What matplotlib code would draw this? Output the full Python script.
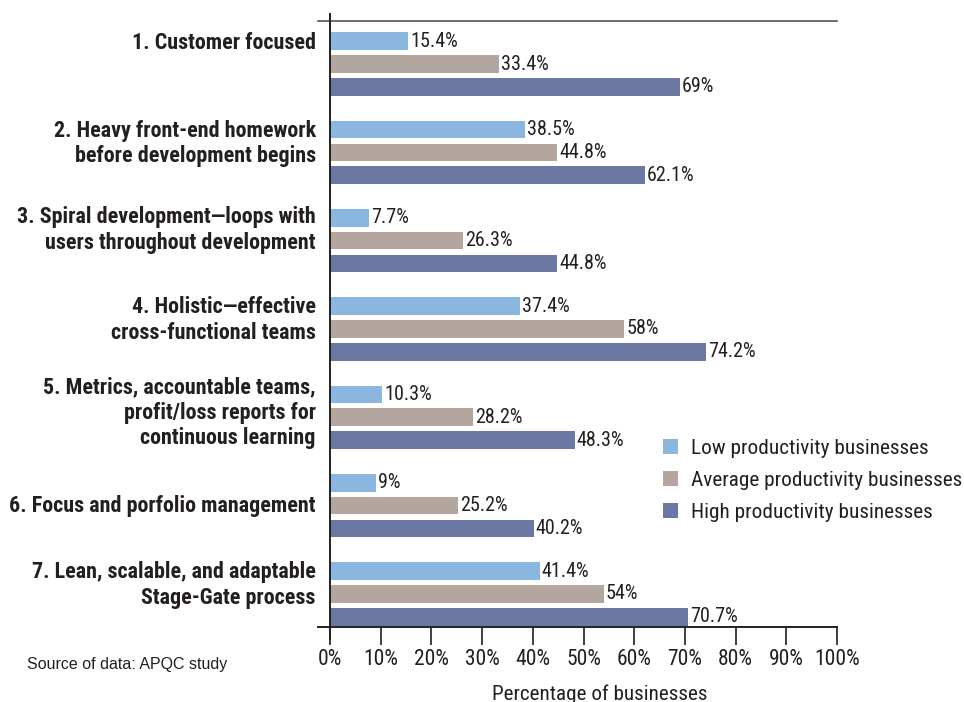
import matplotlib.pyplot as plt
from matplotlib import font_manager
import numpy as np

# Data
categories = [
    "1. Customer focused",
    "2. Heavy front-end homework\nbefore development begins",
    "3. Spiral development\u2014loops with\nusers throughout development",
    "4. Holistic\u2014effective\ncross-functional teams",
    "5. Metrics, accountable teams,\nprofit/loss reports for\ncontinuous learning",
    "6. Focus and porfolio management",
    "7. Lean, scalable, and adaptable\nStage-Gate process",
]
low = [15.4, 38.5, 7.7, 37.4, 10.3, 9, 41.4]
average = [33.4, 44.8, 26.3, 58, 28.2, 25.2, 54]
high = [69, 62.1, 44.8, 74.2, 48.3, 40.2, 70.7]
series_names = ["Low productivity businesses", "Average productivity businesses",
                "High productivity businesses"]
colors = ["#8ab6df", "#b3a69e", "#6b78a2"]
xticks = list(range(0, 101, 10))

# vertical nudge of each category label relative to its group centre
label_shift = [-0.24, -0.1, -0.12, -0.1, -0.05, 0.0, -0.1]

txt = "#231f20"

# pick a condensed face if one is installed
installed = {f.name for f in font_manager.fontManager.ttflist}
wanted = ["Liberation Sans Narrow", "DejaVu Sans Condensed", "Roboto Condensed",
          "Open Sans Condensed", "Arial Narrow", "Roboto"]
cond = next((f for f in wanted if f in installed), "Liberation Sans")
narrow = [cond, "DejaVu Sans"]

fig = plt.figure(figsize=(9.64, 7.02), dpi=100)
W, H = 964, 702
ax = fig.add_axes([330 / W, 1 - 627 / H, 507 / W, (627 - 21) / H])

y = np.arange(len(categories))
off = 0.26
bh = 0.2
for k, vals in enumerate([low, average, high]):
    pos = y + (k - 1) * off
    ax.barh(pos, vals, height=bh, color=colors[k], label=series_names[k], zorder=2)
    for p, v in zip(pos, vals):
        ax.text(v + 0.4, p, f"{v:g}%", va="center", ha="left", fontsize=14.5,
                family=narrow, color=txt)

ax.set_xlim(0, 100)
ax.set_ylim(6.374, -0.487)
ax.set_yticks([])
ax.set_xticks(xticks)
ax.set_xticklabels([f"{t}%" for t in xticks], fontsize=15.5, family=narrow, color=txt)
ax.tick_params(axis="x", direction="out", length=13, width=1.2, color=txt, pad=3)
for s in ["top", "right", "left", "bottom"]:
    ax.spines[s].set_visible(False)

# axis lines as in the original: top rule, left spine, bottom rule
ax.plot([-0.024, 1], [1, 1], transform=ax.transAxes, color="#555555", lw=1.2, clip_on=False)
ax.plot([0, 0], [-0.02, 1.012], transform=ax.transAxes, color=txt, lw=1.4, clip_on=False)
ax.plot([-0.024, 1], [0, 0], transform=ax.transAxes, color=txt, lw=1.4, clip_on=False)

for i, lab in enumerate(categories):
    ax.text(-2.8, y[i] + label_shift[i], lab, ha="right", va="center", fontsize=15.8,
            fontweight="bold", family=narrow, color=txt, linespacing=1.2)

ax.set_xlabel("Percentage of businesses", fontsize=15.2, family=narrow, color=txt,
              labelpad=10, x=(600 - 330) / 507)

leg = ax.legend(loc="upper left", bbox_to_anchor=(644 / W, 1 - 420 / H),
                bbox_transform=fig.transFigure, frameon=False, handlelength=0.7,
                handleheight=0.7, handletextpad=0.6, labelspacing=0.6,
                prop={"family": narrow, "size": 15.3})
for t in leg.get_texts():
    t.set_color(txt)

fig.text(27 / W, 1 - 664 / H, "Source of data: APQC study", ha="left", va="center",
         fontsize=11.5, family=["Liberation Sans", "DejaVu Sans"], color=txt)

fig.savefig("out.png", dpi=100)
